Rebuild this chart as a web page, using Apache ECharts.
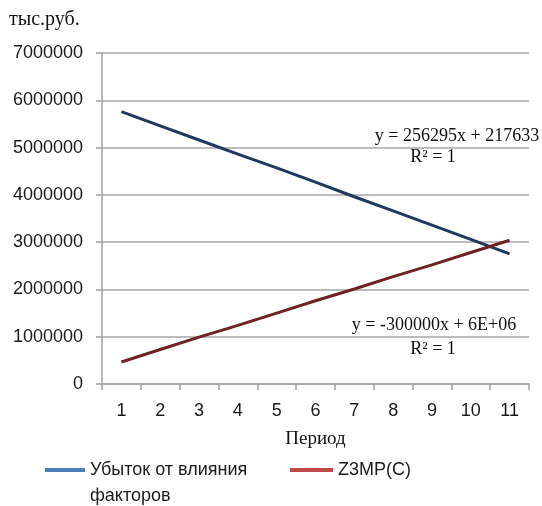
<!DOCTYPE html>
<html>
<head>
<meta charset="utf-8">
<script src="https://cdn.jsdelivr.net/npm/echarts@6/dist/echarts.min.js"></script>
<style>html,body{margin:0;padding:0;background:#fff}#c{width:542px;height:506px}</style>
</head>
<body>
<div id="c"></div>
<script>
const periods = ['1','2','3','4','5','6','7','8','9','10','11'];
const lossValues = [5760000, 5460000, 5160000, 4860000, 4570000, 4270000, 3960000, 3660000, 3360000, 3060000, 2750000];
const z3mpValues = [465000, 730000, 990000, 1240000, 1500000, 1760000, 2010000, 2270000, 2520000, 2780000, 3040000];
const seriesNames = ['Убыток от влияния\nфакторов', 'Z3MP(C)'];
const yTicks = { min: 0, max: 7000000, interval: 1000000 };
const trendTexts = ['y = 256295x + 217633', 'R² = 1', 'y = -300000x + 6E+06', 'R² = 1'];

const chart = echarts.init(document.getElementById('c'));
const serif = '"Liberation Serif", "DejaVu Serif", serif';
const sans = '"Liberation Sans", Arial, sans-serif';
const legendText = { fontFamily: sans, fontSize: 18, color: '#1a1a1a', lineHeight: 26 };
chart.setOption({
  animation: false,
  backgroundColor: '#fff',
  title: { text: 'тыс.руб.', left: 9, top: 10, padding: 0, textStyle: { fontFamily: serif, fontSize: 20, fontWeight: 'normal', color: '#111' } },
  grid: { left: 102, right: 13, top: 53, bottom: 122, containLabel: false },
  xAxis: {
    type: 'category', data: periods, boundaryGap: true,
    name: 'Период', nameLocation: 'middle', nameGap: 46,
    nameTextStyle: { fontFamily: serif, fontSize: 19, color: '#111' },
    axisLine: { lineStyle: { color: '#a0a0a0', width: 1.5 } },
    axisTick: { show: true, length: 6, lineStyle: { color: '#a0a0a0', width: 1.5 } },
    axisLabel: { fontFamily: sans, fontSize: 18, color: '#1a1a1a', margin: 18 },
    splitLine: { show: false }
  },
  yAxis: {
    type: 'value', min: yTicks.min, max: yTicks.max, interval: yTicks.interval,
    axisLine: { show: true, lineStyle: { color: '#a0a0a0', width: 1.5 } },
    axisTick: { show: true, length: 6, lineStyle: { color: '#a0a0a0', width: 1.5 } },
    axisLabel: { fontFamily: sans, fontSize: 18, color: '#1a1a1a', margin: 19, formatter: v => String(v) },
    splitLine: { show: true, lineStyle: { color: '#a6a6a6', width: 1.5 } }
  },
  legend: [
    { left: 45, top: 457, padding: 0, itemWidth: 40, itemHeight: 52, itemGap: 0,
      icon: 'path://M0,0 L0.01,0 L0.01,0.01 Z M0,11 L40,11 L40,15 L0,15 Z M0,52 L0.01,52 L0.01,51.99 Z',
      data: [{ name: seriesNames[0], itemStyle: { color: '#4a7ebb' }, textStyle: legendText }] },
    { left: 290, top: 457, padding: 0, icon: 'rect', itemWidth: 43, itemHeight: 4, itemGap: 0,
      data: [{ name: seriesNames[1], itemStyle: { color: '#be4b48' }, textStyle: legendText }] }
  ],
  series: [
    { name: seriesNames[0], type: 'line', data: lossValues, showSymbol: false, symbol: 'none',
      lineStyle: { color: '#1f3a60', width: 3 }, itemStyle: { color: '#4a7ebb' } },
    { name: seriesNames[1], type: 'line', data: z3mpValues, showSymbol: false, symbol: 'none',
      lineStyle: { color: '#6e2222', width: 3 }, itemStyle: { color: '#be4b48' } }
  ],
  graphic: [
    { type: 'text', x: 457, y: 136, style: { text: trendTexts[0], font: '18px ' + serif, fill: '#111', align: 'center', verticalAlign: 'middle' } },
    { type: 'text', x: 433, y: 157, style: { text: trendTexts[1], font: '18px ' + serif, fill: '#111', align: 'center', verticalAlign: 'middle' } },
    { type: 'text', x: 434, y: 325, style: { text: trendTexts[2], font: '18px ' + serif, fill: '#111', align: 'center', verticalAlign: 'middle' } },
    { type: 'text', x: 433, y: 349, style: { text: trendTexts[3], font: '18px ' + serif, fill: '#111', align: 'center', verticalAlign: 'middle' } }
  ]
});
</script>
</body>
</html>
